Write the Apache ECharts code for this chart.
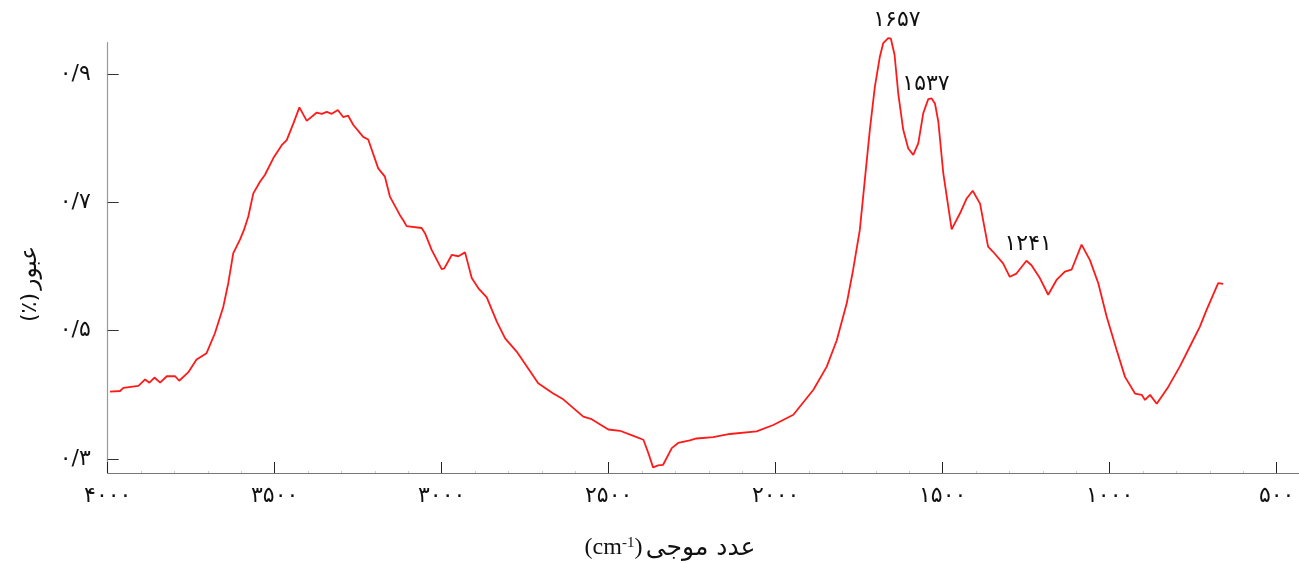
<!DOCTYPE html>
<html>
<head>
<meta charset="utf-8">
<script src="https://cdn.jsdelivr.net/npm/echarts@6/dist/echarts.min.js"></script>
<style>
html,body{margin:0;padding:0;background:#fff;}
#c{width:1299px;height:563px;}
</style>
</head>
<body>
<div id="c"></div>
<script>
// Wavenumbers (cm-1) and transmittance
const wavenumbers = [3993,3963,3953,3908,3888,3875,3860,3843,3823,3798,3786,3759,3734,3704,3679,3654,3639,3624,3604,3592,3579,3564,3544,3529,3504,3479,3464,3444,3426,3404,3374,3359,3344,3329,3311,3295,3280,3265,3235,3220,3190,3170,3155,3125,3115,3105,3060,3050,3030,3000,2992,2970,2950,2930,2910,2890,2865,2835,2810,2775,2745,2711,2666,2636,2576,2551,2501,2466,2426,2396,2381,2367,2352,2337,2311,2292,2257,2237,2187,2137,2057,2007,1947,1887,1847,1817,1787,1768,1748,1733,1718,1703,1688,1678,1663,1655,1644,1633,1618,1603,1588,1573,1558,1543,1533,1523,1513,1498,1473,1448,1428,1410,1388,1364,1349,1319,1299,1279,1249,1234,1209,1184,1159,1134,1114,1084,1059,1034,1009,979,954,924,904,894,879,859,825,790,760,730,710,675,660];
const transmittance = [0.405,0.406,0.411,0.414,0.424,0.419,0.427,0.419,0.429,0.429,0.422,0.435,0.455,0.465,0.496,0.537,0.574,0.621,0.642,0.657,0.678,0.714,0.732,0.743,0.769,0.789,0.797,0.823,0.848,0.827,0.840,0.838,0.841,0.838,0.844,0.833,0.835,0.821,0.802,0.798,0.753,0.740,0.709,0.680,0.672,0.663,0.660,0.652,0.626,0.596,0.597,0.618,0.616,0.622,0.582,0.566,0.552,0.514,0.488,0.467,0.444,0.418,0.402,0.393,0.366,0.362,0.346,0.344,0.336,0.330,0.309,0.287,0.290,0.291,0.317,0.325,0.329,0.332,0.334,0.339,0.343,0.353,0.369,0.408,0.444,0.485,0.543,0.595,0.657,0.735,0.813,0.880,0.927,0.948,0.956,0.955,0.930,0.870,0.813,0.784,0.774,0.792,0.839,0.861,0.862,0.854,0.826,0.745,0.658,0.683,0.706,0.718,0.698,0.631,0.623,0.605,0.584,0.589,0.609,0.602,0.582,0.556,0.579,0.592,0.595,0.634,0.610,0.574,0.522,0.470,0.428,0.402,0.400,0.392,0.400,0.386,0.412,0.444,0.475,0.506,0.532,0.574,0.573];

const xTicks = [4000,3500,3000,2500,2000,1500,1000,500];
const xTickLabels = ['۴۰۰۰','۳۵۰۰','۳۰۰۰','۲۵۰۰','۲۰۰۰','۱۵۰۰','۱۰۰۰','۵۰۰'];
const xMinorTicks = [3900,3800,3700,3600,3400,3300,3200,3100,2900,2800,2700,2600,2400,2300,2200,2100,1900,1800,1700,1600,1400,1300,1200,1100,900,800,700,600];
const yTicks = [0.3,0.5,0.7,0.9];
const yTickLabels = ['۰/۳','۰/۵','۰/۷','۰/۹'];

const peakLabels = ['۱۶۵۷','۱۵۳۷','۱۲۴۱'];
const peakLabelAt = [[1637,0.94],[1550,0.884],[1244,0.635]];
const peakLabelLift = [-28,0,0];

const yAxisTitle = 'عبور';
const yAxisUnit = '(٪)';
const xAxisTitle = 'عدد موجی';

const seriesData = wavenumbers.map((w,i)=>[w,transmittance[i]]);

const chart = echarts.init(document.getElementById('c'), null, {renderer:'canvas'});
const labelFont = 'DejaVu Sans';
const xMin = 433, xMax = 4000;
chart.setOption({
  animation:false,
  backgroundColor:'#fff',
  grid:{left:107.7, right:0, top:42.7, bottom:90, containLabel:false},
  xAxis:[{
    type:'value', min:xMin, max:xMax, inverse:true,
    axisLine:{show:true, onZero:false, lineStyle:{color:'#777', width:1.2}},
    axisTick:{show:true, inside:true, length:11, lineStyle:{color:'#222', width:1}, customValues:xTicks},
    splitLine:{show:false},
    axisLabel:{
      margin:12, fontSize:22, color:'#111', fontFamily:labelFont, customValues:xTicks,
      formatter:function(v){const i=xTicks.indexOf(v);return i>=0?xTickLabels[i]:'';}
    }
  },{
    type:'value', min:xMin, max:xMax, inverse:true, position:'bottom',
    axisLine:{show:false, onZero:false},
    axisTick:{show:true, inside:true, length:2, lineStyle:{color:'#ccc', width:1}, customValues:xMinorTicks},
    axisLabel:{show:false},
    splitLine:{show:false}
  }],
  yAxis:{
    type:'value', min:0.2782, max:0.9488,
    axisLine:{show:true, onZero:false, lineStyle:{color:'#999', width:1.2}},
    axisTick:{show:true, inside:true, length:11, lineStyle:{color:'#333', width:1}, customValues:yTicks},
    splitLine:{show:false},
    axisLabel:{
      margin:17, fontSize:22, color:'#111', fontFamily:labelFont, customValues:yTicks,
      formatter:function(v){for(let i=0;i<yTicks.length;i++){if(Math.abs(yTicks[i]-v)<1e-6)return yTickLabels[i];}return '';}
    }
  },
  series:[{
    type:'line', data:seriesData, showSymbol:false, symbol:'none', clip:false,
    lineStyle:{color:'#ff1a1a', width:1.8},
    markPoint:{
      symbol:'circle', symbolSize:0, silent:true,
      label:{show:true, position:'inside', fontSize:22, color:'#111', fontFamily:labelFont},
      data:peakLabels.map((t,i)=>({coord:peakLabelAt[i], value:t, label:{formatter:t, offset:[0,peakLabelLift[i]]}}))
    }
  }],
  graphic:[
    {
      type:'text', x:670, y:548,
      style:{
        text:'{u|(cm}{s|-1}{u|)} {a|'+xAxisTitle+'}',
        align:'center', verticalAlign:'middle',
        rich:{
          u:{fontFamily:'Liberation Serif', fontSize:24, fill:'#111', verticalAlign:'middle'},
          s:{fontFamily:'Liberation Serif', fontSize:15, fill:'#111', verticalAlign:'top', padding:[0,0,9,0]},
          a:{fontFamily:labelFont, fontSize:25, fill:'#111', verticalAlign:'middle'}
        }
      }
    },
    {
      type:'text', x:30, y:284, rotation:Math.PI/2,
      style:{
        text:'{u|'+yAxisUnit+'} {a|'+yAxisTitle+'}',
        align:'center', verticalAlign:'middle',
        rich:{
          u:{fontFamily:labelFont, fontSize:22, fill:'#111'},
          a:{fontFamily:labelFont, fontSize:23, fill:'#111'}
        }
      }
    }
  ]
});
</script>
</body>
</html>
